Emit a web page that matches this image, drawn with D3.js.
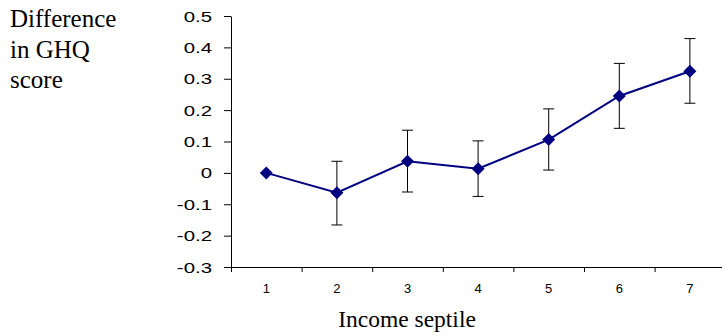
<!DOCTYPE html>
<html>
<head>
<meta charset="utf-8">
<script src="https://cdn.jsdelivr.net/npm/d3@7"></script>
<style>
  html, body { margin: 0; padding: 0; background: #fff; }
  svg { display: block; overflow: hidden; }
</style>
</head>
<body>
<div id="chart"></div>
<script>
// income septiles and difference in GHQ score with error bars
const septiles = ['1', '2', '3', '4', '5', '6', '7'];
const diff = [0, -0.063, 0.037, 0.013, 0.106, 0.245, 0.324];
const upper = [null, 0.037, 0.136, 0.102, 0.204, 0.349, 0.428];
const lower = [null, -0.166, -0.061, -0.075, 0.009, 0.142, 0.222];
const yTicks = [-0.3, -0.2, -0.1, 0, 0.1, 0.2, 0.3, 0.4, 0.5];
const titleLines = ['Difference', 'in GHQ', 'score'];

const width = 722, height = 336;
const axisLeft = 231, axisBottom = 267, plotTop = 16, bandW = 70.6;

const svg = d3.select('#chart').append('svg')
  .attr('width', width)
  .attr('height', height);

const x = d3.scaleBand()
  .domain(septiles)
  .range([axisLeft, axisLeft + bandW * septiles.length])
  .paddingInner(0).paddingOuter(0);

const xEdge = d3.scaleLinear()
  .domain([0, septiles.length])
  .range([axisLeft, axisLeft + bandW * septiles.length]);

const y = d3.scaleLinear()
  .domain([-0.3, 0.5])
  .range([axisBottom, plotTop]);

const cx = d => x(d) + x.bandwidth() / 2;

// y axis
const gy = svg.append('g')
  .attr('transform', `translate(${axisLeft},0)`)
  .call(d3.axisLeft(y).tickValues(yTicks).tickSize(7).tickSizeOuter(0).tickFormat(''));
gy.select('.domain').attr('stroke', '#000');
gy.selectAll('.tick line').attr('stroke', '#000');

svg.append('g').selectAll('text')
  .data(yTicks)
  .enter().append('text')
  .attr('transform', d => `translate(212,${y(d) + 5.5}) scale(1.36,1)`)
  .attr('text-anchor', 'end')
  .attr('font-family', '"Liberation Sans", Arial, sans-serif')
  .attr('font-size', 15)
  .attr('fill', '#000')
  .text(d => d === 0 ? '0' : d.toFixed(1));

// x axis
const gx = svg.append('g')
  .attr('transform', `translate(0,${axisBottom})`)
  .call(d3.axisBottom(xEdge).tickValues(d3.range(septiles.length + 1)).tickSize(5).tickSizeOuter(0).tickFormat(''));
gx.select('.domain').attr('stroke', '#000');
gx.selectAll('.tick line').attr('stroke', '#000');

svg.append('g').selectAll('text')
  .data(septiles)
  .enter().append('text')
  .attr('x', d => cx(d))
  .attr('y', 293)
  .attr('text-anchor', 'middle')
  .attr('font-family', '"Liberation Sans", Arial, sans-serif')
  .attr('font-size', 13)
  .attr('fill', '#000')
  .text(d => d);

svg.append('text')
  .attr('x', 407)
  .attr('y', 327)
  .attr('text-anchor', 'middle')
  .attr('font-family', '"Liberation Serif", "Times New Roman", serif')
  .attr('font-size', 23.5)
  .attr('fill', '#000')
  .text('Income septile');

// y title
svg.append('g').selectAll('text')
  .data(titleLines)
  .enter().append('text')
  .attr('x', 10)
  .attr('y', (d, i) => 27 + i * 30.5)
  .attr('font-family', '"Liberation Serif", "Times New Roman", serif')
  .attr('font-size', 25)
  .attr('fill', '#000')
  .text(d => d);

// error bars
const pts = septiles.map((s, i) => ({ s, v: diff[i], hi: upper[i], lo: lower[i] }));
const eb = svg.append('g').selectAll('g')
  .data(pts.filter(d => d.hi !== null))
  .enter().append('g')
  .attr('stroke', '#000')
  .attr('stroke-width', 1);
eb.append('line')
  .attr('x1', d => cx(d.s)).attr('x2', d => cx(d.s))
  .attr('y1', d => y(d.hi)).attr('y2', d => y(d.lo));
eb.append('line')
  .attr('x1', d => cx(d.s) - 5.5).attr('x2', d => cx(d.s) + 5.5)
  .attr('y1', d => y(d.hi)).attr('y2', d => y(d.hi));
eb.append('line')
  .attr('x1', d => cx(d.s) - 5.5).attr('x2', d => cx(d.s) + 5.5)
  .attr('y1', d => y(d.lo)).attr('y2', d => y(d.lo));

// series line
const line = d3.line()
  .x(d => cx(d.s))
  .y(d => y(d.v));

svg.append('path')
  .datum(pts)
  .attr('fill', 'none')
  .attr('stroke', '#000080')
  .attr('stroke-width', 2)
  .attr('d', line);

// diamond markers
svg.append('g').selectAll('path')
  .data(pts)
  .enter().append('path')
  .attr('transform', d => `translate(${cx(d.s)},${y(d.v)})`)
  .attr('d', 'M0,-6.5L6.5,0L0,6.5L-6.5,0Z')
  .attr('fill', '#000080');
</script>
</body>
</html>
